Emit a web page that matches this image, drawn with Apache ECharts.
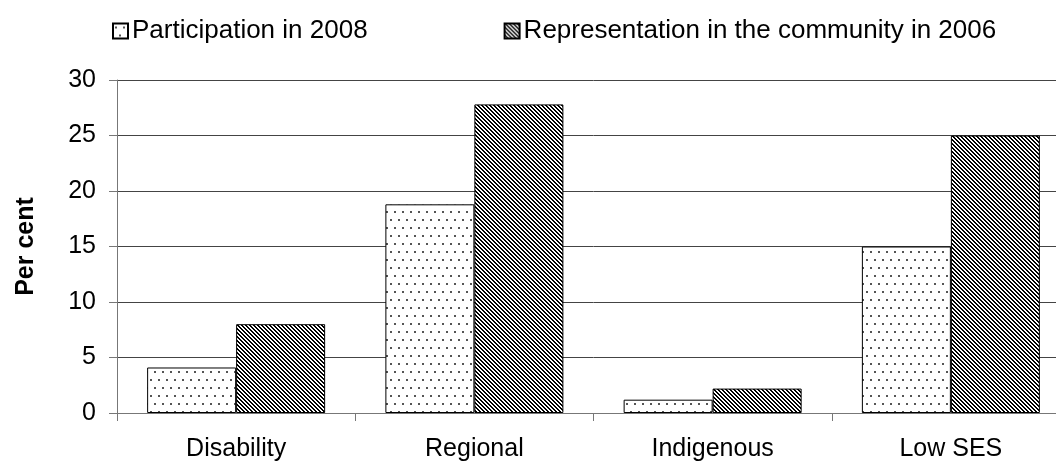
<!DOCTYPE html>
<html>
<head>
<meta charset="utf-8">
<script src="https://cdn.jsdelivr.net/npm/echarts@6/dist/echarts.min.js"></script>
<style>
html,body{margin:0;padding:0;background:#fff;overflow:hidden;}
/* plot runs past the right edge of the picture, so the chart is wider than the window */
#chart{width:1070px;height:464px;}
</style>
</head>
<body>
<div id="chart"></div>
<script>
// data
var categories = ['Disability', 'Regional', 'Indigenous', 'Low SES'];
var seriesNames = ['Participation in 2008', 'Representation in the community in 2006'];
var participation = [4.1, 18.8, 1.2, 15.0];
var representation = [8.0, 27.8, 2.2, 25.0];

// dotted fill
function dotPattern(){
	var c = document.createElement('canvas');
	c.width = 8; c.height = 16;
	var ctx = c.getContext('2d');
	ctx.fillStyle = '#fff';
	ctx.fillRect(0, 0, 8, 16);
	ctx.fillStyle = '#555';
	ctx.fillRect(2, 3, 2, 2);
	ctx.fillRect(6, 11, 2, 2);
	return c;
}
// diagonal hatch fill
function hatchPattern(){
	var c = document.createElement('canvas');
	c.width = 8; c.height = 8;
	var ctx = c.getContext('2d');
	var img = ctx.createImageData(8, 8);
	for (var y = 0; y < 8; y++) {
		for (var x = 0; x < 8; x++) {
			var k = ((x - y) % 4 + 4) % 4;
			var v = k < 2 ? 0 : 255;
			var i = (y * 8 + x) * 4;
			img.data[i] = v; img.data[i+1] = v; img.data[i+2] = v; img.data[i+3] = 255;
		}
	}
	ctx.putImageData(img, 0, 0);
	return c;
}

var dots = {image: dotPattern(), repeat: 'repeat'};
var hatch = {image: hatchPattern(), repeat: 'repeat'};
var font = 'Liberation Sans, Arial, sans-serif';

var chart = echarts.init(document.getElementById('chart'), null, {renderer: 'canvas'});
chart.setOption({
	backgroundColor: '#fff',
	animation: false,
	textStyle: {fontFamily: font},
	legend: {
		left: 112,
		top: 18,
		padding: 0,
		itemWidth: 15,
		itemHeight: 15,
		itemGap: 136,
		icon: 'rect',
		textStyle: {fontSize: 26, color: '#000', fontFamily: font, padding: [0, 0, 0, -1]},
		data: seriesNames
	},
	grid: {left: 117, right: 0, top: 80, bottom: 51, containLabel: false},
	xAxis: {
		type: 'category',
		data: categories,
		boundaryGap: true,
		axisLine: {lineStyle: {color: '#777', width: 1}},
		axisTick: {show: true, length: 8, lineStyle: {color: '#777'}},
		axisLabel: {fontSize: 25, color: '#000', margin: 24, fontFamily: font}
	},
	yAxis: {
		type: 'value',
		min: 0, max: 30, interval: 5,
		name: 'Per cent',
		nameLocation: 'middle',
		nameGap: 78,
		nameTextStyle: {fontSize: 25, fontWeight: 'bold', color: '#000', fontFamily: font},
		axisLine: {show: true, lineStyle: {color: '#777', width: 1}},
		axisTick: {show: true, length: 8, lineStyle: {color: '#777'}},
		axisLabel: {fontSize: 25, color: '#000', margin: 21, fontFamily: font},
		splitLine: {show: true, lineStyle: {color: '#444', width: 1}}
	},
	series: [
		{
			name: seriesNames[0],
			type: 'bar',
			data: participation,
			barWidth: 89,
			barGap: '0%',
			itemStyle: {color: dots, borderColor: '#000', borderWidth: 1}
		},
		{
			name: seriesNames[1],
			type: 'bar',
			data: representation,
			barWidth: 89,
			itemStyle: {color: hatch, borderColor: '#000', borderWidth: 1}
		}
	]
});
</script>
</body>
</html>
